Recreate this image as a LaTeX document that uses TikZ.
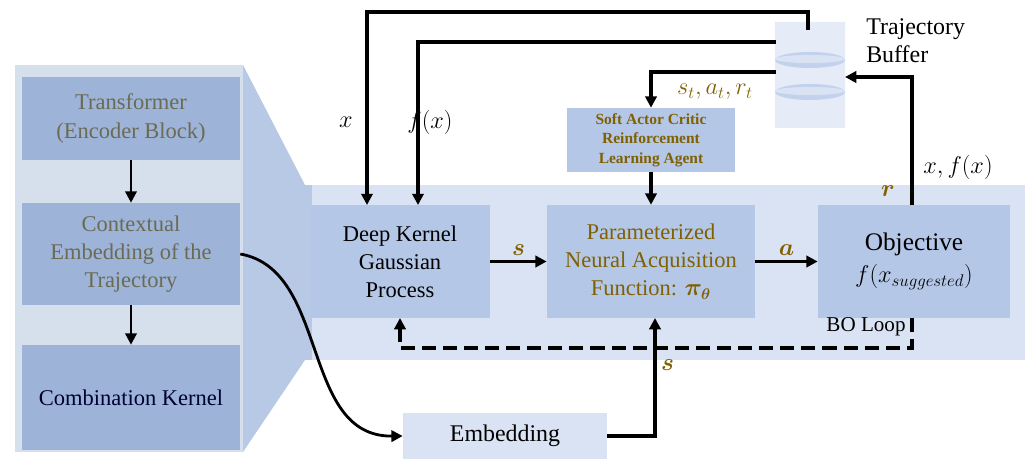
\documentclass[tikz,border=0pt]{standalone}
\usepackage{amsmath,bm}
\usepackage{fontspec}
\setmainfont{Liberation Serif}
\usetikzlibrary{arrows.meta,shapes.geometric}
\definecolor{panel}{HTML}{D6DFEC}
\definecolor{band}{HTML}{DAE3F3}
\definecolor{boxc}{HTML}{B4C7E7}
\definecolor{dboxc}{HTML}{9DB3D7}
\definecolor{trap}{HTML}{B8C9E6}
\definecolor{olive}{HTML}{806000}
\definecolor{grayol}{HTML}{6B6B55}
\tikzset{
 box/.style={draw=none,fill=boxc,align=center,inner sep=0pt,font=\fontsize{16}{20}\selectfont},
 lbox/.style={draw=none,fill=dboxc,align=center,inner sep=0pt,font=\fontsize{16}{20}\selectfont},
 arr/.style={line width=2.2pt,-{Triangle[length=8pt,width=8pt]}},
 lab/.style={font=\fontsize{17}{20}\selectfont},
}
\begin{document}
\begin{tikzpicture}[x=0.025cm,y=-0.025cm]
\useasboundingbox (0,0) rectangle (1028,460);
% band and panels
\fill[band] (298,185) rectangle (1025,360);
\fill[trap] (298,185) rectangle (312,360);
\fill[panel] (15,65) rectangle (243,452);
\fill[trap] (243,65) -- (305,185) -- (305,360) -- (243,452) -- cycle;
\node[lbox,text=grayol,minimum width=5.45cm,minimum height=2.075cm] (tr) at (131,118.5) {Transformer\\(Encoder Block)};
\node[lbox,text=grayol,minimum width=5.45cm,minimum height=2.55cm] (ce) at (131,254) {Contextual\\Embedding of the\\Trajectory};
\node[lbox,text=black!80!blue,minimum width=5.45cm,minimum height=2.625cm] (ck) at (131,397.5) {Combination Kernel};
\draw[arr,line width=1.8pt] (tr) -- (ce);
\draw[arr,line width=1.8pt] (ce) -- (ck);
% main boxes
\node[box,minimum width=4.5cm,minimum height=2.825cm] (gp) at (400,261.5) {Deep Kernel\\Gaussian\\Process};
\node[box,text=olive,minimum width=5.2cm,minimum height=2.825cm] (pn) at (651,261.5) {Parameterized\\Neural Acquisition\\Function: $\bm{\pi_\theta}$};
\node[box,minimum width=4.8cm,minimum height=2.825cm,font=\fontsize{18}{23}\selectfont] (ob) at (914,261.5) {Objective\\$f(x_{suggested})$};
\node[box,text=olive,minimum width=4.175cm,minimum height=1.6cm,font=\bfseries\fontsize{11}{14}\selectfont] (sac) at (651,140) {Soft Actor Critic\\Reinforcement\\Learning Agent};
\node[box,minimum width=5.1cm,minimum height=1.15cm,fill=band,font=\fontsize{17}{20}\selectfont] (em) at (505,436) {Embedding};
% cylinder
\node[cylinder,shape border rotate=90,aspect=0.3,fill=band!70!white,draw=none,minimum width=1.75cm,minimum height=2.65cm,inner sep=0pt] (cyl) at (810,75) {};
\fill[boxc!80!white] (810,60) ellipse (35 and 8);
\fill[boxc!80!white] (810,92) ellipse (35 and 8);
\fill[band] (810,59) ellipse (35 and 4); \fill[band] (810,91) ellipse (35 and 4);
\node[align=left,anchor=north west,lab,inner sep=0pt] (tb) at (866,18) {Trajectory\\Buffer};
% connectors
\coordinate (c1) at (808,30); \coordinate (c2) at (776,42); \coordinate (c3) at (776,72); \coordinate (c4) at (845,77);
\draw[arr] (c1) |- (367,12) -- (367,205);
\draw[arr] (c2) -- (418,42) -- (418,205);
\draw[arr] (c3) -| (sac.north);
\draw[arr] (sac) -- (pn);
\draw[arr] (gp) -- node[above,text=olive,font=\fontsize{17}{18}\selectfont]{$\bm{s}$} (pn);
\draw[arr] (pn) -- node[above,text=olive,font=\fontsize{17}{18}\selectfont]{$\bm{a}$} (ob);
\draw[arr] (912,205) |- (c4);
\draw[arr,dashed,dash pattern=on 10pt off 5pt] (912,318) |- (400,348) -- (400,318);
\draw[arr] (em.east) -| node[pos=0.8,right,text=olive,font=\fontsize{17}{18}\selectfont]{$\bm{s}$} (655,318);
\draw[line width=2pt,-{Triangle[length=8pt,width=8pt]}] (ce.east) .. controls (330,270) and (300,437) .. (em.west);
% labels
\node[lab] at (346,122) {$x$};
\node[lab] at (430,122) {$f(x)$};
\node[lab,text=olive] at (715,92) {$s_t,a_t,r_t$};
\node[lab] at (958,167) {$x,f(x)$};
\node[lab,text=olive] at (888,191) {$\bm{r}$};
\node[lab,font=\fontsize{15}{16}\selectfont] at (866,327) {BO Loop};
\end{tikzpicture}
\end{document}
